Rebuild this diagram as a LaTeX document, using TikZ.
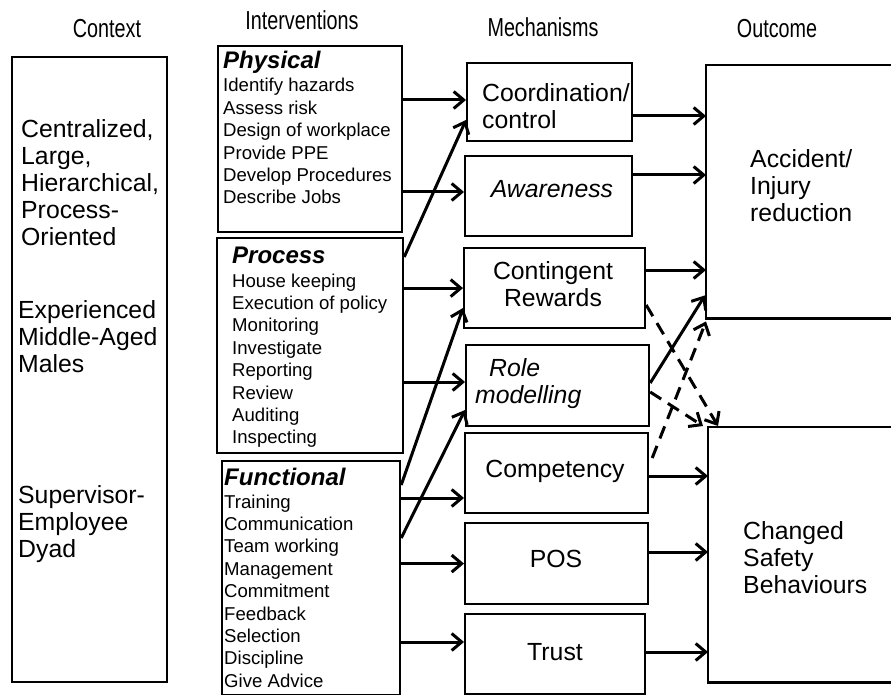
\documentclass[tikz,border=0pt]{standalone}
\usepackage{fontspec}
\setmainfont{Liberation Sans}
\newfontfamily\hdrfont[FakeStretch=0.76]{Liberation Sans}
\usetikzlibrary{arrows.meta,calc}
\newcommand\myrows[2][l]{\begin{tabular}[t]{@{}#1@{}}#2\end{tabular}}
\begin{document}
\begin{tikzpicture}[x=1pt,y=-1pt,
  box/.style={draw, line width=2.2pt, inner sep=0pt, anchor=north west},
  openbox/.style={inner sep=0pt, anchor=north west},
  boxline/.style={line width=2.2pt},
  txt/.style={inner sep=0pt, anchor=base west},
  ctxt/.style={inner sep=0pt, anchor=base},
  big/.style={font=\fontsize{24.8}{27}\selectfont},
  small/.style={font=\fontsize{18.6}{22.4}\selectfont},
  cat/.style={font=\fontsize{24}{27}\selectfont\bfseries\itshape},
  hdr/.style={inner sep=0pt, anchor=base, font=\hdrfont\fontsize{26}{28}\selectfont},
  arr/.style={line width=3pt, -{Straight Barb[length=10pt,width=17pt]}},
  darr/.style={arr, dash pattern=on 13pt off 8pt}
]
\useasboundingbox (0,0) rectangle (891,695);

% headers
\node[hdr] (hctx) at (107,38) {Context};
\node[hdr] (hint) at (302,30) {Interventions};
\node[hdr] (hmech) at (543,37) {Mechanisms};
\node[hdr] (hout) at (777,38) {Outcome};

% context
\node[box, minimum width=155pt, minimum height=625pt] (ctx) at (11,56) {};
\node[txt, big] (ctx1) at (21,138) {\myrows{Centralized,\\Large,\\Hierarchical,\\Process-\\Oriented}};
\node[txt, big] (ctx2) at (18,318) {\myrows{Experienced\\Middle-Aged\\Males}};
\node[txt, big] (ctx3) at (18,503) {\myrows{Supervisor-\\Employee\\Dyad}};

% interventions
\node[box, minimum width=184pt, minimum height=186pt] (phys) at (217,45) {};
\node[txt, cat] (physT) at (223,69) {Physical};
\node[txt, small] (physL) at (223,92) {\myrows{Identify hazards\\Assess risk\\Design of workplace\\Provide PPE\\Develop Procedures\\Describe Jobs}};

\node[box, minimum width=186pt, minimum height=215pt] (proc) at (216,237) {};
\node[txt, cat] (procT) at (232,263) {Process};
\node[txt, small] (procL) at (232,287) {\myrows{House keeping\\Execution of policy\\Monitoring\\Investigate\\Reporting\\Review\\Auditing\\Inspecting}};

\node[box, minimum width=178pt, minimum height=234pt] (func) at (221,460) {};
\node[txt, cat] (funcT) at (224,485) {Functional};
\node[txt, small] (funcL) at (224,508) {\myrows{Training\\Communication\\Team working\\Management\\Commitment\\Feedback\\Selection\\Discipline\\Give Advice}};

% mechanisms
\node[box, minimum width=165pt, minimum height=78pt] (coord) at (466,62) {};
\node[txt, big] (coordT) at (482,102) {\myrows{Coordination/\\control}};
\node[box, minimum width=167pt, minimum height=80pt] (aware) at (464,155) {};
\node[ctxt, big] (awareT) at (552,198) {\itshape Awareness};
\node[box, minimum width=181pt, minimum height=80pt] (cont) at (463,247) {};
\node[ctxt, big] (contT) at (553,279) {\myrows[c]{Contingent\\Rewards}};
\node[box, minimum width=183pt, minimum height=81pt] (role) at (465,344) {};
\node[txt, big] (roleT) at (475,376) {\itshape\myrows{\hspace*{14pt}Role\\modelling}};
\node[box, minimum width=183pt, minimum height=80pt] (comp) at (464,432) {};
\node[ctxt, big] (compT) at (555,477) {Competency};
\node[box, minimum width=183pt, minimum height=81pt] (pos) at (464,522) {};
\node[ctxt, big] (posT) at (556,567) {POS};
\node[box, minimum width=180pt, minimum height=80pt] (trust) at (464,613) {};
\node[ctxt, big] (trustT) at (555,660) {Trust};

% outcomes (open to the right)
\node[openbox, minimum width=185pt, minimum height=253pt] (acc) at (706,65) {};
\draw[boxline] (acc.north east) -- (acc.north west) -- (acc.south west) -- (acc.south east);
\node[txt, big] (accT) at (750,168) {\myrows{Accident/\\Injury\\reduction}};
\node[openbox, minimum width=183pt, minimum height=255pt] (chg) at (708,427) {};
\draw[boxline] (chg.north east) -- (chg.north west) -- (chg.south west) -- (chg.south east);
\node[txt, big] (chgT) at (743,539) {\myrows{Changed\\Safety\\Behaviours}};

% interventions -> mechanisms
\coordinate (c1) at ($(coord.north west)+(0,38)$);
\coordinate (c2) at ($(aware.north west)+(0,37)$);
\coordinate (c4) at ($(role.north west)+(0,38)$);
\coordinate (c5) at ($(comp.north west)+(0,66)$);
\coordinate (c7) at ($(trust.north west)+(0,29)$);
\draw[arr] (phys.east |- c1) -- (c1);
\draw[arr] (phys.east |- c2) -- (c2);
\draw[arr] (proc.east |- cont.west) -- (cont.west);
\draw[arr] (proc.east |- c4) -- (c4);
\draw[arr] (func.east |- c5) -- (c5);
\draw[arr] (func.east |- pos.west) -- (pos.west);
\draw[arr] (func.east |- c7) -- (c7);
\draw[arr] ($(proc.north east)+(0,20)$) -- ($(coord.north west)+(0,58)$);
\draw[arr] ($(func.north east)+(0,25)$) -- ($(cont.north west)+(0,61)$);
\draw[arr] ($(func.north east)+(0,78)$) -- ($(role.north west)+(0,66)$);

% mechanisms -> outcomes
\coordinate (s1) at ($(coord.north east)+(0,54)$);
\coordinate (s2) at ($(aware.north east)+(0,20)$);
\coordinate (s3) at ($(cont.north east)+(0,23)$);
\coordinate (s8) at ($(comp.north east)+(0,44)$);
\coordinate (s9) at ($(pos.north east)+(0,30)$);
\coordinate (s10) at ($(trust.north east)+(0,39)$);
\draw[arr] (s1) -- (acc.west |- s1);
\draw[arr] (s2) -- (acc.west |- s2);
\draw[arr] (s3) -- (acc.west |- s3);
\draw[arr] (s8) -- (chg.west |- s8);
\draw[arr] (s9) -- (chg.west |- s9);
\draw[arr] (s10) -- (chg.west |- s10);
\draw[arr] ($(role.north east)+(0,39)$) -- ($(acc.south west)+(-1,-23)$);
\draw[darr] ($(role.north east)+(0,48)$) -- ($(chg.north west)+(-5,-1)$);
\draw[darr] ($(cont.north east)+(0,58)$) -- ($(chg.north west)+(10,-1)$);
\draw[darr] ($(comp.north east)+(3,26)$) -- ($(acc.south west)+(0,3)$);
\end{tikzpicture}
\end{document}
